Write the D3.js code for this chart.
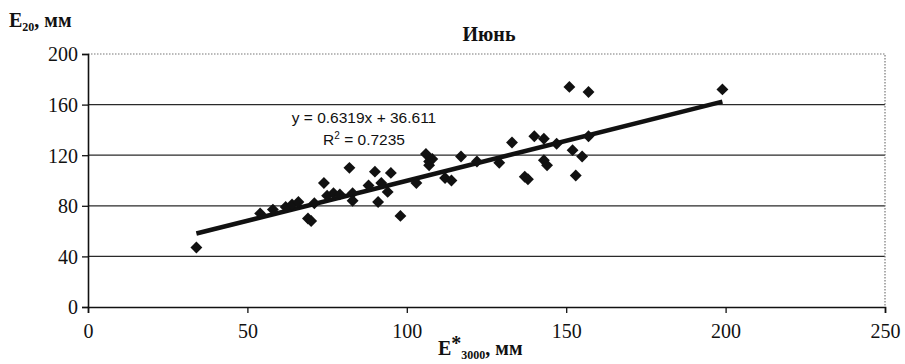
<!DOCTYPE html>
<html><head><meta charset="utf-8">
<script src="https://cdn.jsdelivr.net/npm/d3@7"></script>
<style>
html,body{margin:0;padding:0;background:#fff;}
svg{display:block;}
</style></head>
<body><svg id="chart" width="905" height="364"></svg>
<script>
const xValues = [34,54,58,62,64,66,69,70,71,74,75,77,79,82,83,83,88,90,91,92,94,95,98,103,106,107,107,108,112,114,117,122,129,133,137,138,140,143,143,144,147,151,152,153,155,157,157,199];
const yValues = [47,74,77,79,81,83,70,68,82,98,88,90,89,110,90,84,96,107,83,98,91,106,72,98,121,115,112,117,102,100,119,115,114,130,103,101,135,133,116,112,129,174,124,104,119,170,135,172];
const xTicks = [0,50,100,150,200,250];
const yTicks = [0,40,80,120,160,200];
const slope = 0.6319, intercept = 36.611, r2 = "0.7235";
const titleText = "Июнь";

const svg = d3.select("#chart");
const L = 88, R = 885, T = 54, B = 307;
const x = d3.scaleLinear().domain([0,250]).range([L,R]);
const y = d3.scaleLinear().domain([0,200]).range([B,T]);
const serif = "'Liberation Serif','DejaVu Serif',serif";

// gridlines
svg.append("g").selectAll("line").data(yTicks.filter(v=>v>0 && v<200)).join("line")
  .attr("x1",L).attr("x2",R).attr("y1",d=>y(d)).attr("y2",d=>y(d))
  .attr("stroke","#2a2a2a").attr("stroke-width",1.3);

// dotted border top/right
svg.append("path").attr("d",`M${L},${T}H${R}V${B}`)
  .attr("fill","none").attr("stroke","#777").attr("stroke-width",1.2).attr("stroke-dasharray","1.5,1.5");

// axes
const yAxis = d3.axisLeft(y).tickValues(yTicks).tickSize(6).tickPadding(4);
const gy = svg.append("g").attr("transform",`translate(${L},0)`).call(yAxis);
const xAxis = d3.axisBottom(x).tickValues(xTicks).tickSize(6).tickPadding(6);
const gx = svg.append("g").attr("transform",`translate(0,${B})`).call(xAxis);
[gx,gy].forEach(g=>{
  g.select(".domain").attr("stroke","#111").attr("stroke-width",1.6);
  g.selectAll(".tick line").attr("stroke","#111").attr("stroke-width",1.3);
  g.selectAll(".tick text").attr("font-family",serif).attr("font-size",20).attr("fill","#111");
});
gx.selectAll(".tick text").attr("dy","0.95em");
gy.selectAll(".tick text").attr("dy","0.34em");

// trend line
const xmin = d3.min(xValues), xmax = d3.max(xValues);
svg.append("line")
  .attr("x1",x(xmin)).attr("y1",y(slope*xmin+intercept))
  .attr("x2",x(xmax)).attr("y2",y(slope*xmax+intercept))
  .attr("stroke","#111").attr("stroke-width",4.5);

// points
const sym = d3.symbol().type(d3.symbolDiamond2).size(90);
svg.append("g").selectAll("path").data(xValues.map((v,i)=>[v,yValues[i]])).join("path")
  .attr("d",sym).attr("transform",d=>`translate(${x(d[0])},${y(d[1])})`)
  .attr("fill","#111");

// equation
const eq = svg.append("g").attr("font-family","'Liberation Sans',Arial,sans-serif").attr("font-size",15.5).attr("fill","#111").attr("text-anchor","middle");
eq.append("text").attr("x",364).attr("y",123).text(`y = ${slope}x + ${intercept}`);
const r2t = eq.append("text").attr("x",364).attr("y",145);
r2t.append("tspan").text("R");
r2t.append("tspan").attr("dy",-6).attr("font-size",10).text("2");
r2t.append("tspan").attr("dy",6).text(` = ${r2}`);

// title
svg.append("text").attr("x",489).attr("y",41).attr("text-anchor","middle")
  .attr("font-family",serif).attr("font-weight","bold").attr("font-size",20).attr("fill","#111").text(titleText);

// y label
const yl = svg.append("text").attr("x",9).attr("y",27).attr("font-family",serif).attr("font-weight","bold").attr("font-size",20).attr("fill","#111");
yl.append("tspan").text("E");
yl.append("tspan").attr("dy",4).attr("font-size",12).text("20");
yl.append("tspan").attr("dy",-4).text(", мм");

// x label
const xl = svg.append("text").attr("x",438).attr("y",355).attr("font-family",serif).attr("font-weight","bold").attr("font-size",20).attr("fill","#111");
xl.append("tspan").text("E");
xl.append("tspan").attr("dy",-5).text("*");
xl.append("tspan").attr("dy",9).attr("font-size",12).text("3000");
xl.append("tspan").attr("dy",-4).text(", мм");
</script>
</body></html>
